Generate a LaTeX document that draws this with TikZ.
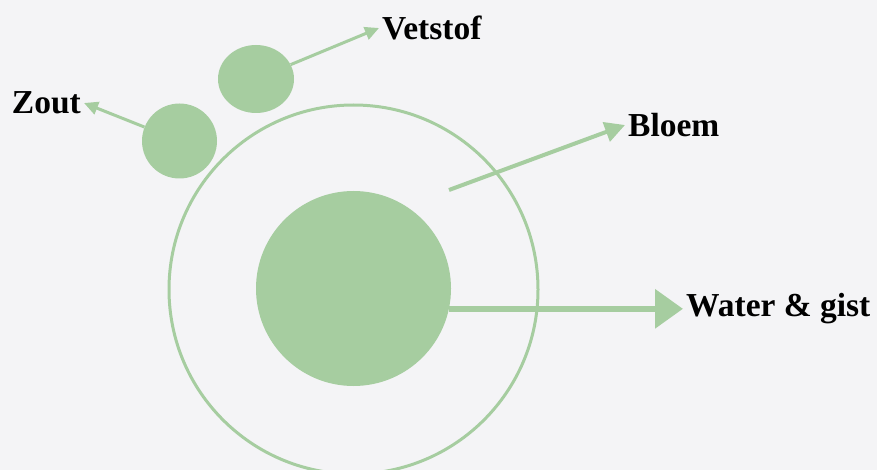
\documentclass[tikz,border=0pt]{standalone}
\usepackage{fontspec}
\setmainfont{Liberation Serif}
\usetikzlibrary{arrows.meta,positioning,shapes.geometric}
\definecolor{sage}{HTML}{A6CDA0}
\definecolor{marble}{HTML}{F4F4F6}

\begin{document}
\begin{tikzpicture}[x=1pt, y=-1pt, >=Triangle,
  blob/.style={fill=sage, inner sep=0pt},
  lbl/.style={font=\bfseries\fontsize{33.5}{36}\selectfont, text=black, inner sep=3pt},
  ptr/.style={draw=sage, line width=3pt, -{Triangle[length=14pt,width=13pt]}}]

  % Background
  \useasboundingbox (0,0) rectangle (877,470);
  \fill[marble] (0,0) rectangle (877,470);

  % Define the circles
  \node[circle, draw=sage, line width=3pt, minimum size=369pt, inner sep=0pt] (ring) at (353.5,289.5) {};
  \node[blob, circle, minimum size=195pt] (core) at (353.5,288.5) {};
  \node[blob, circle, minimum size=75pt] (zout) at (179.5,141) {};
  \node[blob, ellipse, minimum width=76pt, minimum height=68pt] (vet) at (256,79) {};
  \coordinate (flour) at (449,190);

  % Define the labels
  \node[lbl, anchor=east] (zoutlab) at (84,103) {Zout};
  \node[lbl, anchor=west] (vetlab) at (379,28) {Vetstof};
  \node[lbl, anchor=west] (bloemlab) at (625,125) {Bloem};
  \node[lbl, anchor=west] (waterlab) at (683,309) {Water \& gist};

  % Draw arrows between nodes
  \draw[ptr] (zout) -- (zoutlab.east);
  \draw[ptr] (vet) -- (vetlab.west);
  \draw[ptr, line width=4pt, -{Triangle[length=20pt,width=20pt]}] (flour) -- (bloemlab.west);
  \draw[ptr, line width=6.5pt, -{Triangle[length=28pt,width=38pt]}] (core.-12) -- (waterlab.west |- core.-12);
\end{tikzpicture}
\end{document}
